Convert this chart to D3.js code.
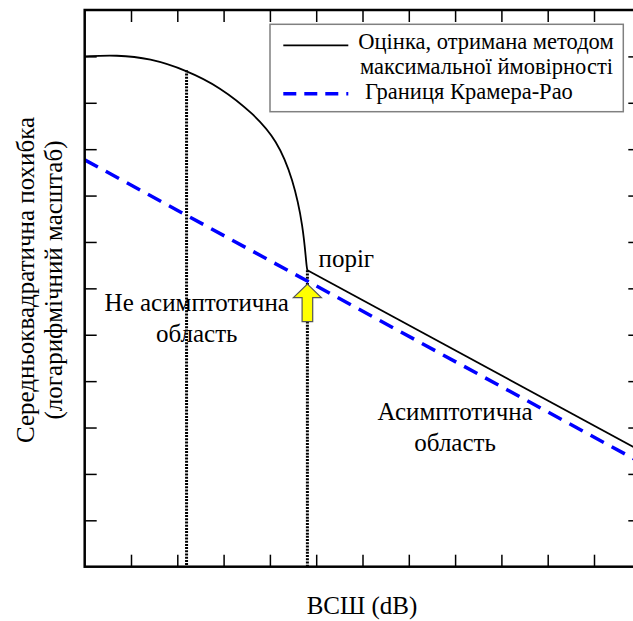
<!DOCTYPE html>
<html>
<head>
<meta charset="utf-8">
<script src="https://cdn.jsdelivr.net/npm/d3@7"></script>
<style>
  body { margin: 0; background: #fff; }
  svg { display: block; }
  .frame { fill: none; stroke: #000; stroke-width: 2.5; }
  .axis .tick line { stroke: #000; stroke-width: 1.5; }
  .axis .domain { display: none; }
  .ml { fill: none; stroke: #000; stroke-width: 1.8; }
  .crb { fill: none; stroke: #0000ff; stroke-width: 3.5; stroke-dasharray: 15, 9; }
  .marker { stroke: #000; stroke-width: 3; stroke-dasharray: 2, 1.2; }
  .legend-box { fill: #fff; stroke: #808080; stroke-width: 1.5; }
</style>
</head>
<body>
<svg id="chart"></svg>
<script>
// Axis grid: 12 steps on each axis, no numbers (schematic chart)
var gridSteps = d3.range(1, 12);

// ML estimate, non-asymptotic part (SNR units, log MSE units)
var mlSnr = [0, 0.69, 1.41, 2.2, 2.92, 3.64, 4.15, 4.5, 4.72, 4.79, 4.81];
var mlMse = [11.0, 11.03, 10.96, 10.7, 10.34, 9.77, 9.2, 8.36, 7.33, 6.47, 6.39];

// ML estimate above threshold (asymptotic)
var mlAsymSnr = [4.81, 12];
var mlAsymMse = [6.39, 2.5];

// Cramer-Rao bound
var crbSnr = [0, 12];
var crbMse = [8.77, 2.25];

// dotted markers
var markerSnr = [2.2, 4.81];
var markerMse = [10.7, 6.39];

// threshold arrow tip
var thresholdSnr = 4.81;
var thresholdMse = 6.09;

var legendLabels = [
  ["Оцінка, отримана методом", "максимальної ймовірності"],
  ["Границя Крамера-Рао"]
];

var FONT = "Liberation Serif";

var width = 633,
  height = 621,
  margin = { top: 10, left: 84.7 },
  plotW = 555.6,
  plotH = 556.7;

var svg = d3
  .select("#chart")
  .attr("width", width)
  .attr("height", height);

var g = svg
  .append("g")
  .attr("transform", "translate(" + margin.left + "," + margin.top + ")");

var x = d3.scaleLinear().domain([0, 12]).range([0, plotW]);
var y = d3.scaleLinear().domain([0, 12]).range([plotH, 0]);

function zip(a, b) {
  return a.map(function(d, i) {
    return [d, b[i]];
  });
}

function label(sel, txt, size) {
  return sel
    .append("text")
    .attr("font-family", FONT)
    .attr("font-size", size || 25)
    .attr("fill", "#000")
    .text(txt);
}

var line = d3
  .line()
  .x(function(d) {
    return x(d[0]);
  })
  .y(function(d) {
    return y(d[1]);
  });

// Ticks on all four sides, pointing inward
g.append("g")
  .attr("class", "axis")
  .attr("transform", "translate(0," + plotH + ")")
  .call(d3.axisBottom(x).tickValues(gridSteps).tickSize(-12).tickFormat(""));
g.append("g")
  .attr("class", "axis")
  .call(d3.axisTop(x).tickValues(gridSteps).tickSize(-12).tickFormat(""));
g.append("g")
  .attr("class", "axis")
  .call(d3.axisLeft(y).tickValues(gridSteps).tickSize(-12).tickFormat(""));
g.append("g")
  .attr("class", "axis")
  .attr("transform", "translate(" + plotW + ",0)")
  .call(d3.axisRight(y).tickValues(gridSteps).tickSize(-12).tickFormat(""));

// Dotted vertical markers
g.selectAll(".marker")
  .data(zip(markerSnr, markerMse))
  .enter()
  .append("line")
  .attr("class", "marker")
  .attr("x1", function(d) {
    return x(d[0]);
  })
  .attr("x2", function(d) {
    return x(d[0]);
  })
  .attr("y1", function(d) {
    return y(d[1]);
  })
  .attr("y2", plotH);

// Curves
g.append("path")
  .datum(zip(crbSnr, crbMse))
  .attr("class", "crb")
  .attr("d", line);

g.append("path")
  .datum(zip(mlSnr, mlMse))
  .attr("class", "ml")
  .attr("d", line.curve(d3.curveBasis));

g.append("path")
  .datum(zip(mlAsymSnr, mlAsymMse))
  .attr("class", "ml")
  .attr("d", line.curve(d3.curveLinear));

// Yellow threshold arrow
var tx = x(thresholdSnr),
  ty = y(thresholdMse);
g.append("path")
  .attr(
    "d",
    "M" + tx + "," + ty +
      "L" + (tx + 14) + "," + (ty + 13.4) +
      "L" + (tx + 5.3) + "," + (ty + 13.4) +
      "L" + (tx + 5.3) + "," + (ty + 37.4) +
      "L" + (tx - 5.3) + "," + (ty + 37.4) +
      "L" + (tx - 5.3) + "," + (ty + 13.4) +
      "L" + (tx - 14) + "," + (ty + 13.4) +
      "Z"
  )
  .attr("fill", "#ffff00")
  .attr("stroke", "#555")
  .attr("stroke-width", 1.2);

// Annotations
label(g, "поріг")
  .attr("x", x(5.05))
  .attr("y", y(6.46));

var notes = [
  { cx: 2.42, lines: ["Не асимптотична", "область"], base: 5.52 },
  { cx: 8.0, lines: ["Асимптотична", "область"], base: 3.16 }
];

notes.forEach(function(n) {
  n.lines.forEach(function(t, i) {
    label(g, t)
      .attr("text-anchor", "middle")
      .attr("x", x(n.cx))
      .attr("y", y(n.base) + i * 31);
  });
});

// Frame
g.append("rect")
  .attr("class", "frame")
  .attr("width", plotW)
  .attr("height", plotH);

// Legend
var legend = svg.append("g").attr("transform", "translate(270,24.3)");

legend
  .append("rect")
  .attr("class", "legend-box")
  .attr("width", 353.3)
  .attr("height", 87.4);

legend
  .append("line")
  .attr("class", "ml")
  .attr("x1", 13.3)
  .attr("x2", 78.3)
  .attr("y1", 21)
  .attr("y2", 21);

legend
  .append("line")
  .attr("class", "crb")
  .attr("x1", 13.3)
  .attr("x2", 78.3)
  .attr("y1", 69.5)
  .attr("y2", 69.5)
  .style("stroke-dasharray", "13,8");

label(legend, legendLabels[0][0], 22.5).attr("x", 88.3).attr("y", 24.7);
label(legend, legendLabels[0][1], 22.5).attr("x", 90).attr("y", 50);
label(legend, legendLabels[1][0], 22.5).attr("x", 95).attr("y", 74.7);

// Axis titles
label(svg, "ВСШ (dB)")
  .attr("text-anchor", "middle")
  .attr("x", 362)
  .attr("y", 614);

var yTitle = label(svg, null)
  .attr("text-anchor", "middle")
  .attr("transform", "translate(0,280) rotate(-90)");

yTitle.append("tspan").attr("x", 0).attr("y", 34).text("Середньоквадратична похибка");
yTitle.append("tspan").attr("x", 0).attr("y", 62).text("(логарифмічний масштаб)");
</script>
</body>
</html>
